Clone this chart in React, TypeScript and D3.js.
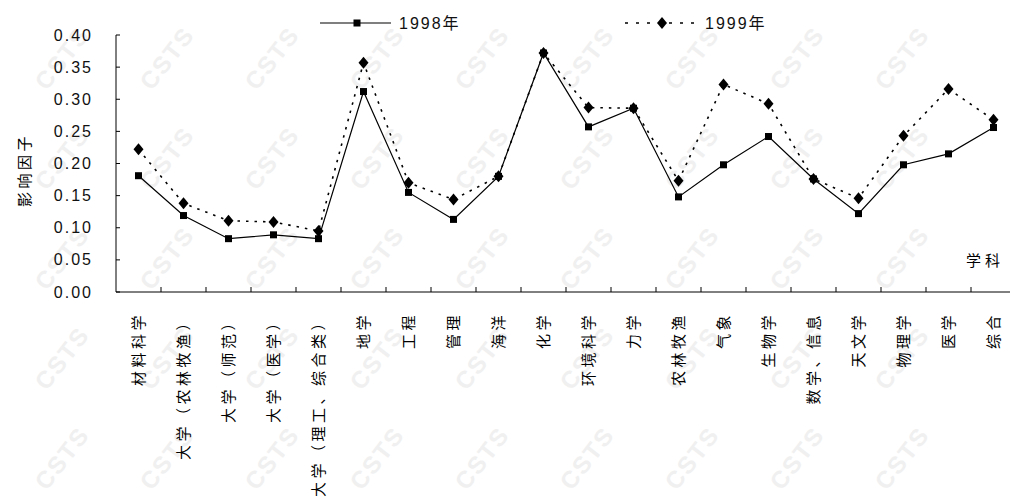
import React from "react";
import * as d3 from "d3";

// 学科 categories along the x axis
const categories = [
  "材料科学",
  "大学（农林牧渔）",
  "大学（师范）",
  "大学（医学）",
  "大学（理工、综合类）",
  "地学",
  "工程",
  "管理",
  "海洋",
  "化学",
  "环境科学",
  "力学",
  "农林牧渔",
  "气象",
  "生物学",
  "数学、信息",
  "天文学",
  "物理学",
  "医学",
  "综合",
];

// 影响因子 per discipline
const values1998 = [
  0.181, 0.119, 0.083, 0.089, 0.083, 0.312, 0.155, 0.113, 0.18, 0.372,
  0.257, 0.286, 0.148, 0.198, 0.242, 0.176, 0.122, 0.198, 0.215, 0.256,
];
const values1999 = [
  0.222, 0.138, 0.111, 0.109, 0.095, 0.357, 0.17, 0.144, 0.18, 0.372,
  0.287, 0.286, 0.173, 0.323, 0.293, 0.176, 0.146, 0.243, 0.316, 0.268,
];

const yTicks = [0, 0.05, 0.1, 0.15, 0.2, 0.25, 0.3, 0.35, 0.4];

const seriesNames = ["1998年", "1999年"];
const yTitle = "影响因子";
const xTitle = "学科";

const W = 1010;
const H = 500;
const FONT = "'Liberation Sans', Arial, 'Noto Sans CJK SC', sans-serif";
const CJK = "'Noto Sans CJK SC', 'Liberation Sans', sans-serif";

const x = d3.scaleBand<string>().domain(categories).range([116, 1016]).padding(0);
const y = d3.scaleLinear().domain([0, 0.4]).range([292, 35]);
const cx = (c: string) => (x(c) as number) + x.bandwidth() / 2;

const line = d3
  .line<number>()
  .x((_, i) => cx(categories[i]))
  .y((v) => y(v));

const diamond = "M0,-6L5,0L0,6L-5,0Z";

function Square({ px, py }: { px: number; py: number }) {
  return <rect x={px - 3.5} y={py - 3.5} width={7} height={7} fill="#000" />;
}

function Diamond({ px, py }: { px: number; py: number }) {
  return <path d={diamond} transform={`translate(${px},${py})`} fill="#000" />;
}

// faint repeated watermark
const wmCols = d3.range(9);
const wmRows = d3.range(5);

export default function App() {
  const [y0, y1] = y.range();
  return (
    <svg
      width={W}
      height={H}
      viewBox={`0 0 ${W} ${H}`}
      style={{ position: "absolute", left: 0, top: 0, background: "#fff" }}
    >
      <rect width={W} height={H} fill="#fff" />
      <g fill="#f0f0f0" fontFamily={FONT} fontWeight="bold" fontSize={24}>
        {wmRows.map((r) =>
          wmCols.map((c) => (
            <text
              key={`${r}-${c}`}
              transform={`translate(${62 + c * 105},${58 + r * 100}) rotate(-52)`}
              textAnchor="middle"
              dominantBaseline="central"
              letterSpacing={2}
            >
              CSTS
            </text>
          ))
        )}
      </g>

      {/* axes */}
      <line x1={116} x2={116} y1={y1} y2={y0} stroke="#000" strokeWidth={1} />
      <line x1={116} x2={W} y1={y0} y2={y0} stroke="#000" strokeWidth={1} />
      {yTicks.map((t) => (
        <g key={t}>
          <line x1={116} x2={120} y1={y(t)} y2={y(t)} stroke="#000" />
          <text
            x={93}
            y={y(t)}
            textAnchor="end"
            dominantBaseline="central"
            fontFamily={FONT}
            fontSize={16}
            letterSpacing={2}
            fill="#111"
          >
            {t.toFixed(2)}
          </text>
        </g>
      ))}
      {categories.map((c, i) =>
        i === 0 ? null : (
          <line
            key={c}
            x1={x(c) as number}
            x2={x(c) as number}
            y1={y0}
            y2={y0 - 5}
            stroke="#000"
          />
        )
      )}
      {categories.map((c) => (
        <text
          key={c}
          transform={`translate(${cx(c) + 5},312) rotate(-90)`}
          textAnchor="end"
          fontFamily={CJK}
          fontSize={15}
          letterSpacing={3.5}
          fill="#000"
        >
          {c}
        </text>
      ))}

      {/* axis titles */}
      <text
        transform="translate(30,170) rotate(-90)"
        textAnchor="middle"
        fontFamily={CJK}
        fontSize={15}
        letterSpacing={3.5}
        fill="#000"
      >
        {yTitle}
      </text>
      <text x={966} y={266} fontFamily={CJK} fontSize={15} letterSpacing={4} fill="#000">
        {xTitle}
      </text>

      {/* series lines */}
      <path d={line(values1998) as string} fill="none" stroke="#000" strokeWidth={1.2} />
      <path
        d={line(values1999) as string}
        fill="none"
        stroke="#000"
        strokeWidth={1.6}
        strokeDasharray="2.5,6"
      />
      {values1998.map((v, i) => (
        <Square key={i} px={cx(categories[i])} py={y(v)} />
      ))}
      {values1999.map((v, i) => (
        <Diamond key={i} px={cx(categories[i])} py={y(v)} />
      ))}

      {/* legend */}
      <line x1={320} x2={391} y1={23} y2={23} stroke="#000" strokeWidth={1.2} />
      <Square px={357} py={23} />
      <text x={399} y={29} fontFamily={FONT} fontSize={16} letterSpacing={2} fill="#111">
        {seriesNames[0]}
      </text>
      <line
        x1={625}
        x2={700}
        y1={23}
        y2={23}
        stroke="#000"
        strokeWidth={1.6}
        strokeDasharray="3,8"
      />
      <Diamond px={662} py={23} />
      <text x={705} y={29} fontFamily={FONT} fontSize={16} letterSpacing={2} fill="#111">
        {seriesNames[1]}
      </text>
    </svg>
  );
}
